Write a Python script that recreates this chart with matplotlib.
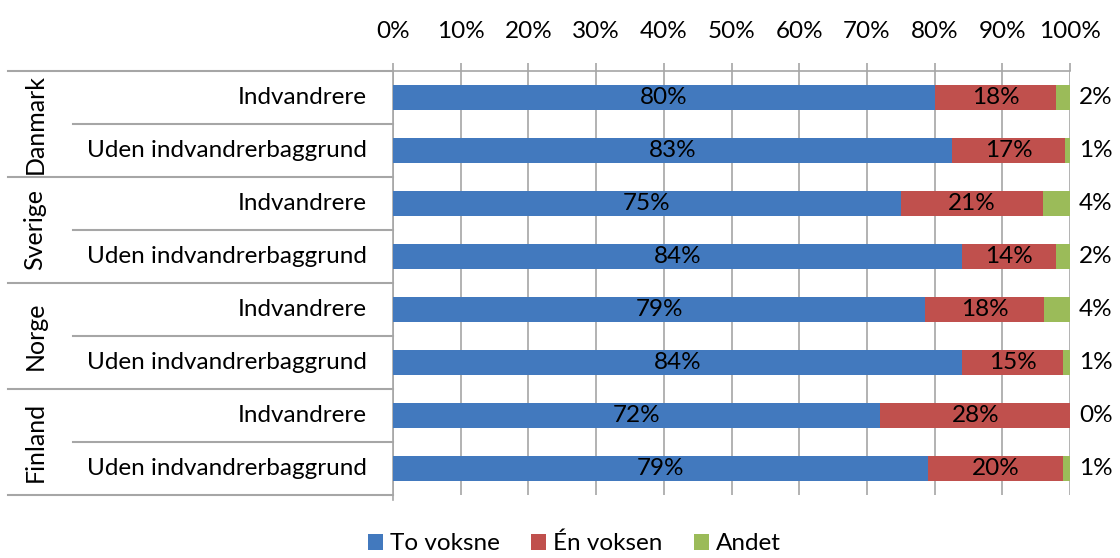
import matplotlib
matplotlib.use('Agg')
import matplotlib.pyplot as plt
import numpy as np

plt.rcParams['font.family'] = ['Lato', 'DejaVu Sans']

#### data
groups = ['Danmark', 'Sverige', 'Norge', 'Finland']
rows = ['Indvandrere', 'Uden indvandrerbaggrund'] * 4
to_voksne = [80.0, 82.6, 75.0, 84.0, 78.6, 84.0, 72.0, 79.0]
en_voksen = [18.0, 16.6, 21.0, 14.0, 17.6, 15.0, 28.0, 20.0]
andet = [2.0, 0.8, 4.0, 2.0, 3.8, 1.0, 0.0, 1.0]
series_names = ['To voksne', 'Én voksen', 'Andet']
colors = ['#4279BE', '#C0504D', '#9BBB59']
xticks = [0, 10, 20, 30, 40, 50, 60, 70, 80, 90, 100]

fs = 17.5
grey = '#A6A6A6'

fig = plt.figure(figsize=(11.2, 5.58), dpi=100)
ax = fig.add_axes([393/1120, 1-495/558, 677/1120, 424/558])

y = np.arange(len(rows))
left = np.zeros(len(rows))
bars = []
for vals, c, name in zip([to_voksne, en_voksen, andet], colors, series_names):
    b = ax.barh(y, vals, left=left, height=0.48, color=c, label=name, zorder=3)
    bars.append(b)
    left = left + np.array(vals)

# labels inside blue and red segments
starts = np.zeros(len(rows))
for vals in [to_voksne, en_voksen]:
    for i, v in enumerate(vals):
        ax.text(starts[i] + v/2, y[i], '%d%%' % int(v + 0.5), ha='center', va='center',
                fontsize=fs, color='black', zorder=4)
    starts = starts + np.array(vals)
# green labels outside
for i, v in enumerate(andet):
    ax.text(103.8, y[i], '%d%%' % int(v + 0.5), ha='center', va='center',
            fontsize=fs, color='black', clip_on=False)

ax.set_xlim(0, 100)
ax.set_ylim(len(rows) - 0.5, -0.5)
ax.xaxis.tick_top()
ax.set_xticks(xticks)
ax.set_xticklabels(['%d%%' % t for t in xticks], fontsize=fs)
ax.tick_params(axis='x', length=6, width=1.2, color=grey, pad=15)
ax.set_yticks([])
ax.grid(axis='x', color=grey, linewidth=1.2, zorder=0)
for s in ['right', 'bottom']:
    ax.spines[s].set_visible(False)
ax.spines['top'].set_color(grey)
ax.spines['left'].set_color(grey)
ax.spines['top'].set_linewidth(1.2)
ax.spines['left'].set_linewidth(1.2)

# left category area
tr = ax.get_yaxis_transform()
x_grp = (8 - 393) / 677
x_row = (73 - 393) / 677
for k in range(len(rows) + 1):
    yb = k - 0.5
    x0 = x_grp if k % 2 == 0 else x_row
    ax.plot([x0, 0], [yb, yb], color=grey, lw=1.5, transform=tr, clip_on=False)
ax.plot([0, 0], [len(rows) - 0.5, len(rows) - 0.4], color=grey, lw=1.2, transform=tr, clip_on=False)
for i, r in enumerate(rows):
    ax.text(-26/677, i, r, ha='right', va='center', fontsize=fs, transform=tr)
for g, name in enumerate(groups):
    ax.text((35 - 393)/677, 2*g + 0.5, name, rotation=90, ha='center', va='center',
            fontsize=fs + 0.5, transform=tr)

fig.legend(handles=bars, labels=series_names, loc='lower center', ncol=3,
           bbox_to_anchor=(0.513, 0.0), frameon=False, fontsize=fs,
           handlelength=0.6, handleheight=0.6, handletextpad=0.3, columnspacing=1.3,
           borderaxespad=0.0, borderpad=0.15)

fig.savefig('out.png', dpi=100)
